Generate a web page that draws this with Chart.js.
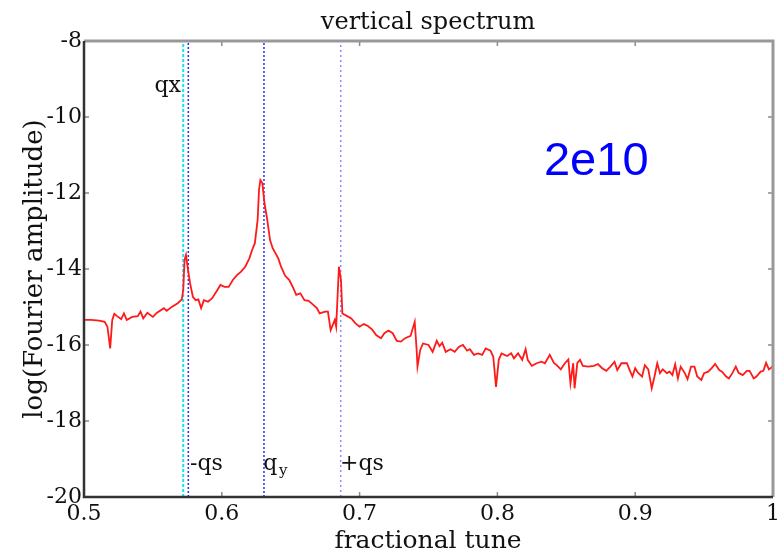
<!DOCTYPE html>
<html>
<head>
<meta charset="utf-8">
<script src="https://cdn.jsdelivr.net/npm/chart.js@4.4.1/dist/chart.umd.min.js"></script>
<style>
  html, body { margin: 0; padding: 0; background: #fff; }
  #wrap { width: 784px; height: 553px; }
</style>
</head>
<body>
<div id="wrap"><canvas id="spec" width="784" height="553"></canvas></div>
<script>
// spectrum: fractional tune vs log(Fourier amplitude)
const tuneX = [
  0.500,0.505,0.511,0.515,0.517,0.519,0.5205,0.522,0.524,0.527,
  0.529,0.531,0.535,0.539,0.541,0.543,0.546,0.550,0.553,0.558,
  0.560,0.564,0.568,0.571,0.572,0.573,0.574,0.5755,0.577,0.579,
  0.581,0.583,0.585,0.587,0.590,0.593,0.596,0.599,0.602,0.605,
  0.608,0.611,0.614,0.617,0.620,0.622,0.624,
  0.626,0.627,0.628,0.6294,0.631,0.633,0.635,0.637,0.641,0.643,
  0.646,0.649,0.652,0.654,0.657,0.660,0.663,0.666,0.669,0.671,
  0.675,0.677,0.679,0.682,0.683,0.685,0.6865,0.6875,0.691,0.694,
  0.697,0.700,0.703,0.706,0.709,0.712,0.7155,0.718,0.721,0.724,
  0.727,0.730,0.733,0.737,0.740,0.7414,0.742,0.744,0.746,0.750,
  0.753,
  0.756,0.758,0.760,0.7625,0.766,0.769,0.772,0.775,0.778,0.780,
  0.783,0.786,0.789,0.7915,0.795,0.797,0.799,0.801,0.803,0.807,
  0.810,0.812,0.815,0.818,0.8205,0.822,0.825,0.8285,0.832,0.8345,
  0.838,0.841,0.843,0.846,0.849,0.8515,0.853,0.855,0.856,0.858,
  0.860,0.862,0.866,0.870,
  0.873,0.876,0.879,0.882,0.885,0.887,0.890,0.894,0.896,0.898,
  0.900,0.902,0.905,0.907,0.9095,0.912,0.914,0.916,0.918,0.920,
  0.923,0.925,0.927,0.929,0.931,0.933,0.936,0.938,0.9405,0.943,
  0.945,0.948,0.950,0.953,0.9555,0.958,0.961,0.963,0.966,0.968,
  0.9705,0.973,0.975,0.978,0.981,0.983,0.986,0.988,0.991,0.993,
  0.995,0.997,0.999,1.000
];
const logAmp = [
  -15.34,-15.34,-15.36,-15.39,-15.52,-16.09,-15.34,-15.18,-15.24,-15.32,
  -15.17,-15.34,-15.26,-15.24,-15.12,-15.30,-15.15,-15.26,-15.15,-15.03,
  -15.10,-14.99,-14.90,-14.80,-14.55,-13.76,-13.63,-14.03,-14.38,-14.73,
  -14.82,-14.80,-15.03,-14.82,-14.86,-14.77,-14.60,-14.42,-14.47,-14.47,
  -14.29,-14.16,-14.07,-13.94,-13.72,-13.50,-13.32,
  -12.71,-11.92,-11.66,-11.74,-12.27,-12.71,-13.24,-13.46,-13.72,-13.94,
  -14.18,-14.29,-14.51,-14.68,-14.64,-14.82,-14.84,-14.93,-15.03,-15.17,
  -15.12,-15.12,-15.61,-15.34,-15.52,-13.94,-14.29,-15.17,-15.24,-15.30,
  -15.43,-15.52,-15.45,-15.50,-15.59,-15.74,-15.82,-15.69,-15.62,-15.69,
  -15.89,-15.91,-15.82,-15.76,-15.39,-16.13,-16.57,-16.13,-15.96,-16.00,
  -16.18,
  -15.89,-16.03,-15.94,-16.18,-16.11,-16.18,-16.05,-16.00,-16.15,-16.11,
  -16.26,-16.22,-16.26,-16.09,-16.15,-16.31,-17.10,-16.39,-16.22,-16.29,
  -16.22,-16.35,-16.22,-16.39,-16.11,-16.39,-16.55,-16.48,-16.44,-16.48,
  -16.26,-16.47,-16.53,-16.64,-16.48,-16.38,-17.01,-16.48,-17.14,-16.47,
  -16.39,-16.55,-16.57,-16.55,
  -16.50,-16.61,-16.68,-16.57,-16.44,-16.66,-16.48,-16.48,-16.66,-16.83,
  -16.61,-16.73,-16.83,-16.53,-16.64,-17.14,-16.83,-16.48,-16.74,-16.64,
  -16.74,-16.70,-16.79,-16.51,-16.88,-16.57,-16.74,-16.90,-16.57,-16.57,
  -16.83,-16.92,-16.74,-16.70,-16.61,-16.50,-16.66,-16.70,-16.83,-16.88,
  -16.74,-16.57,-16.73,-16.79,-16.68,-16.68,-16.88,-16.83,-16.70,-16.68,
  -16.47,-16.64,-16.59,-16.55
];

// marker lines: qx, -qs, qy, +qs
const lineTunes = [0.572, 0.5757, 0.6306, 0.6863];
const lineColors = ['#12e4f4', '#2a2aff', '#2a2aff', '#8c8cff'];
const lineDash = [[3, 2], [2, 2], [2, 2], [2, 3]];

// line tags: text, tune, value at baseline
const tagText = ['qx', '-qs', 'q', '+qs'];
const tagTune = [0.5704, 0.5769, 0.6301, 0.6858];
const tagVal = [-9.34, -19.29, -19.29, -19.29];

const xMin = 0.5, xMax = 1, xStep = 0.1;
const yMin = -20, yMax = -8, yStep = 2;

const serif = '"DejaVu Serif", serif';
const ink = '#111';

let datasets = [{
  data: tuneX.map((t, i) => ({ x: t, y: logAmp[i] })),
  borderColor: '#ff1a1a',
  borderWidth: 1.8,
  pointRadius: 0,
  tension: 0,
  order: 0
}];
lineTunes.forEach((q, i) => {
  datasets.push({
    data: [{ x: q, y: yMin }, { x: q, y: yMax }],
    borderColor: lineColors[i],
    borderWidth: i === 0 ? 2 : 1.5,
    borderDash: lineDash[i],
    pointRadius: 0,
    order: 1
  });
});

const decor = {
  id: 'decor',
  afterDraw(chart) {
    const ctx = chart.ctx;
    const a = chart.chartArea;
    const xs = chart.scales.x, ys = chart.scales.y;
    ctx.save();

    // inward tick marks
    ctx.strokeStyle = '#8a8a8a';
    ctx.lineWidth = 1.5;
    ctx.beginPath();
    ys.ticks.forEach(t => {
      const py = ys.getPixelForValue(t.value);
      ctx.moveTo(a.left, py); ctx.lineTo(a.left + 5, py);
      ctx.moveTo(a.right, py); ctx.lineTo(a.right - 5, py);
    });
    xs.ticks.forEach(t => {
      const px = xs.getPixelForValue(t.value);
      ctx.moveTo(px, a.bottom); ctx.lineTo(px, a.bottom - 5);
      ctx.moveTo(px, a.top); ctx.lineTo(px, a.top + 5);
    });
    ctx.stroke();

    // box: grey top/right, dark left/bottom
    ctx.strokeStyle = '#999';
    ctx.lineWidth = 3;
    ctx.beginPath();
    ctx.moveTo(a.left, a.top); ctx.lineTo(a.right, a.top); ctx.lineTo(a.right, a.bottom);
    ctx.stroke();
    ctx.strokeStyle = '#333';
    ctx.lineWidth = 2.5;
    ctx.beginPath();
    ctx.moveTo(a.left, a.top); ctx.lineTo(a.left, a.bottom); ctx.lineTo(a.right, a.bottom);
    ctx.stroke();

    // title and axis titles
    ctx.fillStyle = ink;
    ctx.font = '24px ' + serif;
    ctx.textAlign = 'center';
    ctx.textBaseline = 'alphabetic';
    ctx.fillText('vertical spectrum', 428, 29);
    ctx.font = '25px ' + serif;
    ctx.fillText('fractional tune', 428, 548);
    ctx.save();
    ctx.translate(42, (a.top + a.bottom) / 2);
    ctx.rotate(-Math.PI / 2);
    ctx.font = '26px ' + serif;
    ctx.fillText('log(Fourier amplitude)', 0, 0);
    ctx.restore();

    // tags on the marker lines
    ctx.font = '22px ' + serif;
    tagText.forEach((s, i) => {
      const px = xs.getPixelForValue(tagTune[i]);
      const py = ys.getPixelForValue(tagVal[i]);
      ctx.textAlign = i === 0 ? 'right' : 'left';
      ctx.fillText(s, px, py);
      if (s === 'q') {
        ctx.font = '15px ' + serif;
        ctx.fillText('y', px + ctx.measureText('q').width + 6, py + 5);
        ctx.font = '22px ' + serif;
      }
    });

    // intensity annotation
    ctx.fillStyle = '#0000ff';
    ctx.font = '47px "Liberation Sans", Arial, sans-serif';
    ctx.textAlign = 'left';
    ctx.fillText('2e10', xs.getPixelForValue(0.8338), ys.getPixelForValue(-11.53));
    ctx.restore();
  }
};

new Chart(document.getElementById('spec'), {
  type: 'line',
  data: { datasets: datasets },
  options: {
    responsive: false,
    animation: false,
    layout: { padding: { top: 41, right: 11, left: 0, bottom: 0 } },
    plugins: { legend: { display: false }, tooltip: { enabled: false } },
    scales: {
      x: {
        type: 'linear', min: xMin, max: xMax,
        ticks: {
          stepSize: xStep, color: ink, font: { family: serif, size: 22 }, padding: 4, maxRotation: 0,
          callback: v => String(Math.round(v * 10) / 10)
        },
        grid: { display: false, drawTicks: false },
        border: { display: false },
        afterFit(s) { s.height = 56; }
      },
      y: {
        min: yMin, max: yMax,
        ticks: { stepSize: yStep, color: ink, font: { family: serif, size: 22 }, padding: 2 },
        grid: { display: false, drawTicks: false },
        border: { display: false },
        afterFit(s) { s.width = 84; }
      }
    }
  },
  plugins: [decor]
});
</script>
</body>
</html>
